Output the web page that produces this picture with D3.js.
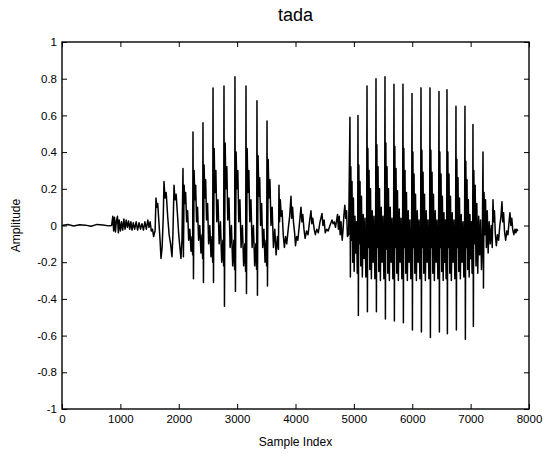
<!DOCTYPE html>
<html>
<head>
<meta charset="utf-8">
<script src="https://cdn.jsdelivr.net/npm/d3@7"></script>
<style>
  body { margin: 0; background: #fff; }
  svg { font-family: "Liberation Sans", Arial, Helvetica, sans-serif; }
</style>
</head>
<body>
<div id="chart"></div>
<script>
// waveform, [sample index, amplitude]
const onset = [
  [0,0],[100,0.005],[200,-0.003],[300,0.004],[400,0.002],[500,-0.004],[600,0.006],[700,0.003],[800,-0.002],
  [850,0.0],[870,0.05],[885,-0.03],[900,0.045],[915,-0.035],[930,0.02],[950,0.05],[965,-0.04],[980,0.03],
  [1000,-0.03],[1020,0.02],[1040,-0.025],[1060,0.035],[1080,-0.02],[1100,0.03],[1120,-0.01],[1140,0.025],
  [1160,-0.02],[1180,0.02],[1200,-0.025],[1220,0.015],[1245,-0.02],[1270,0.02],[1295,-0.025],[1320,0.015],
  [1345,-0.02],[1370,0.01],[1395,-0.025],[1420,0.02],[1445,-0.02],[1470,0.03],[1490,-0.01],[1510,0.02],
  [1530,-0.03],[1550,-0.02],[1570,-0.06],[1585,-0.04],[1595,-0.03]
];
const vowel1 = [
  [1610,0.15],[1625,0.10],[1640,0.12],[1660,0.02],[1680,-0.08],[1696,-0.18],[1715,-0.12],[1735,0.05],
  [1747,0.24],[1765,0.15],[1785,0.18],[1810,0.05],[1835,-0.05],[1860,-0.1],[1884,-0.17],[1900,-0.05],
  [1919,0.22],[1935,0.14],[1955,0.17],[1980,0.05],[2000,-0.05],[2020,-0.12],[2038,-0.18],[2055,-0.08],
  [2073,0.31],[2080,-0.17],[2092,0.22],[2105,0.12],[2118,0.18],[2135,0.02],[2152,0.08],[2170,-0.08],[2190,-0.02],[2210,-0.14],[2228,-0.06],[2238,-0.16],
  [2244,0.51],[2252,-0.29],[2263,0.30],[2276,0.14],[2290,0.22],[2305,0.02],[2322,0.10],[2340,-0.08],[2360,0.0],[2380,-0.15],[2398,-0.05],[2409,-0.18],
  [2415,0.56],[2423,-0.31],[2434,0.33],[2447,0.15],[2461,0.25],[2476,0.03],[2494,0.12],[2512,-0.10],[2532,0.0],[2552,-0.17],[2570,-0.06],[2581,-0.2],
  [2587,0.75],[2595,-0.31],[2607,0.42],[2620,0.18],[2636,0.30],[2652,0.02],[2672,0.14],[2692,-0.10],[2714,0.02],[2736,-0.2],[2756,-0.08],[2769,-0.22],
  [2775,0.76],[2783,-0.44],[2795,0.45],[2808,0.2],[2824,0.32],[2840,0.03],[2860,0.15],[2880,-0.12],[2902,0.0],[2924,-0.22],[2944,-0.08],[2957,-0.24],
  [2963,0.81],[2971,-0.36],[2983,0.4],[2996,0.2],[3012,0.3],[3028,0.02],[3048,0.14],[3068,-0.12],[3090,0.0],[3112,-0.22],[3132,-0.1],[3146,-0.25],
  [3152,0.76],[3160,-0.37],[3172,0.42],[3185,0.18],[3201,0.3],[3217,0.02],[3237,0.14],[3257,-0.12],[3279,0.0],[3301,-0.22],[3321,-0.1],[3334,-0.24],
  [3340,0.68],[3348,-0.38],[3359,0.38],[3372,0.16],[3387,0.26],[3402,0.0],[3420,0.12],[3438,-0.12],[3458,-0.02],[3478,-0.2],[3496,-0.08],[3506,-0.22],
  [3512,0.57],[3520,-0.33],[3532,0.36],[3546,0.15],[3562,0.25],[3580,0.0],[3600,0.1],[3622,-0.12],[3645,-0.02],[3668,-0.16],[3690,-0.06],[3708,-0.13]
];
const tail1 = [
  [3717,0.22],[3727,0.02],[3740,0.14],[3755,0.05],[3770,0.08],[3790,-0.05],[3810,-0.12],[3830,-0.06],[3850,-0.1],[3875,-0.02],[3900,0.05],
  [3923,0.16],[3935,0.04],[3950,0.1],[3965,0.02],[3985,-0.04],[4000,-0.11],[4020,-0.06],[4040,-0.08],[4065,0.0],
  [4094,0.10],[4110,0.02],[4125,0.06],[4145,-0.02],[4165,-0.07],[4190,-0.03],[4215,-0.05],[4240,0.02],
  [4265,0.08],[4280,0.01],[4295,0.04],[4320,-0.02],[4340,-0.05],[4365,-0.02],[4390,-0.04],[4420,0.02],
  [4454,0.065],[4470,0.0],[4490,0.03],[4510,-0.04],[4535,-0.02],[4560,-0.03],[4590,0.0],
  [4625,0.03],[4645,0.01],[4665,0.02],[4685,-0.01],[4700,0.02],[4720,0.06],[4735,-0.02],[4750,0.05],
  [4765,-0.05],[4780,0.02],[4800,-0.08],[4815,-0.02],[4830,0.06],[4845,0.11],[4860,0.04],[4875,0.08],[4890,-0.06],[4910,-0.05]
];
const vowel2 = [
  [4933,0.59],[4940,-0.28],[4948,0.32],[4958,-0.08],[4968,0.24],[4980,-0.2],[4992,0.15],[5005,-0.25],[5018,0.05],[5032,-0.15],[5045,0.02],[5058,-0.26],[5065,-0.1],
  [5070,0.60],[5077,-0.49],[5085,0.33],[5095,-0.1],[5105,0.24],[5118,-0.22],[5130,0.16],[5145,-0.28],[5160,0.06],[5175,-0.18],[5190,0.04],[5205,-0.28],[5218,-0.1],
  [5225,0.76],[5232,-0.47],[5240,0.42],[5250,-0.12],[5260,0.3],[5273,-0.24],[5285,0.2],[5300,-0.29],[5315,0.08],[5330,-0.2],[5345,0.05],[5360,-0.29],[5372,-0.1],
  [5379,0.80],[5386,-0.47],[5394,0.44],[5404,-0.12],[5414,0.32],[5427,-0.25],[5439,0.2],[5454,-0.3],[5469,0.1],[5484,-0.2],[5499,0.05],[5514,-0.29],[5526,-0.1],
  [5533,0.81],[5540,-0.51],[5548,0.45],[5558,-0.13],[5568,0.32],[5581,-0.26],[5593,0.2],[5608,-0.3],[5623,0.1],[5638,-0.2],[5653,0.04],[5668,-0.29],[5680,-0.1],
  [5687,0.77],[5694,-0.52],[5702,0.43],[5712,-0.12],[5722,0.31],[5735,-0.26],[5747,0.19],[5762,-0.3],[5777,0.09],[5792,-0.2],[5807,0.04],[5822,-0.29],[5834,-0.1],
  [5841,0.77],[5848,-0.53],[5856,0.42],[5866,-0.12],[5876,0.3],[5889,-0.26],[5901,0.18],[5916,-0.3],[5931,0.08],[5946,-0.2],[5961,0.03],[5976,-0.29],[5989,-0.1],
  [5996,0.72],[6003,-0.57],[6011,0.4],[6021,-0.12],[6031,0.28],[6044,-0.26],[6056,0.17],[6071,-0.3],[6086,0.08],[6101,-0.2],[6116,0.03],[6131,-0.29],[6143,-0.1],
  [6150,0.75],[6157,-0.58],[6165,0.41],[6175,-0.12],[6185,0.29],[6198,-0.26],[6210,0.17],[6225,-0.3],[6240,0.08],[6255,-0.2],[6270,0.03],[6285,-0.29],[6297,-0.1],
  [6304,0.75],[6311,-0.61],[6319,0.41],[6329,-0.12],[6339,0.29],[6352,-0.26],[6364,0.17],[6379,-0.3],[6394,0.08],[6409,-0.2],[6424,0.03],[6439,-0.29],[6451,-0.1],
  [6458,0.73],[6465,-0.58],[6473,0.4],[6483,-0.12],[6493,0.28],[6505,-0.25],[6516,0.16],[6530,-0.3],[6543,0.07],[6556,-0.2],[6568,0.03],[6580,-0.29],[6590,-0.1],
  [6595,0.74],[6602,-0.59],[6610,0.4],[6620,-0.12],[6630,0.28],[6643,-0.26],[6655,0.16],[6670,-0.3],[6685,0.07],[6700,-0.2],[6715,0.03],[6730,-0.29],[6742,-0.1],
  [6749,0.65],[6756,-0.57],[6764,0.36],[6774,-0.12],[6784,0.26],[6797,-0.25],[6809,0.15],[6824,-0.29],[6839,0.06],[6854,-0.2],[6869,0.02],[6884,-0.28],[6896,-0.1],
  [6903,0.65],[6910,-0.62],[6918,0.35],[6928,-0.12],[6938,0.25],[6950,-0.24],[6961,0.14],[6975,-0.28],[6988,0.06],[7001,-0.18],[7013,0.02],[7025,-0.26],[7035,-0.1],
  [7040,0.55],[7047,-0.55],[7055,0.3],[7066,-0.1],[7078,0.22],[7092,-0.22],[7106,0.12],[7122,-0.26],[7138,0.05],[7154,-0.16],[7170,0.03],[7186,-0.24],[7200,-0.08],
  [7212,0.40],[7220,-0.34],[7230,0.18],[7242,-0.05],[7255,0.14],[7270,-0.12],[7285,0.08],[7300,-0.15],[7318,0.02],[7335,-0.1],[7355,0.0],[7370,-0.12]
];
const tail2 = [
  [7383,0.14],[7395,0.02],[7408,0.08],[7422,-0.04],[7440,-0.11],[7460,-0.05],[7480,-0.08],[7500,0.0],[7520,0.05],
  [7537,0.13],[7550,0.02],[7565,0.07],[7580,-0.03],[7600,-0.08],[7620,-0.03],[7640,-0.05],[7658,0.02],
  [7674,0.07],[7690,0.0],[7705,0.04],[7720,-0.02],[7740,-0.05],[7760,-0.02],[7775,-0.04],[7790,-0.02],[7810,-0.03]
];

const xTicks = [0,1000,2000,3000,4000,5000,6000,7000,8000];
const yTicks = [-1,-0.8,-0.6,-0.4,-0.2,0,0.2,0.4,0.6,0.8,1];

const width = 546, height = 454;
const margin = {top: 42, right: 17, bottom: 45, left: 62};

const svg = d3.select("#chart").append("svg")
    .attr("width", width)
    .attr("height", height);

const x = d3.scaleLinear().domain([0, 8000]).range([margin.left, width - margin.right]);
const y = d3.scaleLinear().domain([-1, 1]).range([height - margin.bottom, margin.top]);

const wave = onset.concat(vowel1, tail1, vowel2, tail2);

svg.append("path")
    .datum(wave)
    .attr("fill", "none")
    .attr("stroke", "#000")
    .attr("stroke-width", 1.5)
    .attr("stroke-linejoin", "round")
    .attr("d", d3.line().x(d => x(d[0])).y(d => y(d[1])));

// box + inward ticks, matlab style
function styleAxis(g) {
  g.select(".domain").remove();
  g.selectAll(".tick line").attr("stroke", "#000");
  g.selectAll("text").attr("fill", "#000").attr("font-size", 11.5);
}

svg.append("g")
    .attr("transform", `translate(0,${height - margin.bottom})`)
    .call(d3.axisBottom(x).tickValues(xTicks).tickSizeInner(-5).tickSizeOuter(0).tickPadding(6).tickFormat(d => String(d)))
    .call(styleAxis);

svg.append("g")
    .attr("transform", `translate(0,${margin.top})`)
    .call(d3.axisTop(x).tickValues(xTicks).tickSizeInner(-5).tickSizeOuter(0).tickFormat(""))
    .call(styleAxis);

svg.append("g")
    .attr("transform", `translate(${margin.left},0)`)
    .call(d3.axisLeft(y).tickValues(yTicks).tickSizeInner(-5).tickSizeOuter(0).tickPadding(5).tickFormat(d => String(+d.toFixed(1))))
    .call(styleAxis);

svg.append("g")
    .attr("transform", `translate(${width - margin.right},0)`)
    .call(d3.axisRight(y).tickValues(yTicks).tickSizeInner(-5).tickSizeOuter(0).tickFormat(""))
    .call(styleAxis);

svg.append("rect")
    .attr("x", margin.left)
    .attr("y", margin.top)
    .attr("width", width - margin.left - margin.right)
    .attr("height", height - margin.top - margin.bottom)
    .attr("fill", "none")
    .attr("stroke", "#000")
    .attr("stroke-width", 1.4);

svg.append("text")
    .attr("x", (margin.left + width - margin.right) / 2)
    .attr("y", 21)
    .attr("text-anchor", "middle")
    .attr("font-size", 18)
    .text("tada");

svg.append("text")
    .attr("x", (margin.left + width - margin.right) / 2)
    .attr("y", 446)
    .attr("text-anchor", "middle")
    .attr("font-size", 12)
    .text("Sample Index");

svg.append("text")
    .attr("transform", `translate(20,${(margin.top + height - margin.bottom) / 2}) rotate(-90)`)
    .attr("text-anchor", "middle")
    .attr("font-size", 12)
    .text("Amplitude");
</script>
</body>
</html>
